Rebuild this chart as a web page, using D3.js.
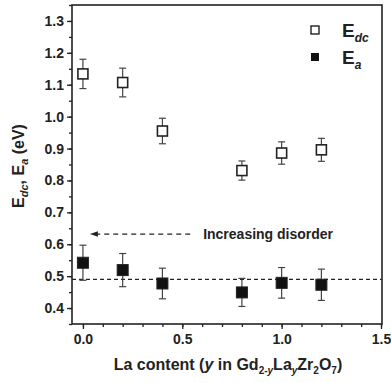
<!DOCTYPE html>
<html>
<head>
<meta charset="utf-8">
<script src="https://cdn.jsdelivr.net/npm/d3@7"></script>
<style>
  body { margin: 0; background: #fff; }
  svg text { font-family: "Liberation Sans", Arial, sans-serif; font-weight: bold; fill: #222; }
</style>
</head>
<body>
<div id="chart"></div>
<script>
// La content y
let laContent = [0.0, 0.2, 0.4, 0.8, 1.0, 1.2];
// E_dc (eV) and its error
let eDc = [1.134, 1.107, 0.955, 0.831, 0.886, 0.896];
let eDcErr = [0.046, 0.045, 0.040, 0.030, 0.035, 0.036];
// E_a (eV) and its error
let eA = [0.542, 0.519, 0.477, 0.449, 0.479, 0.473];
let eAErr = [0.055, 0.052, 0.048, 0.044, 0.048, 0.049];
let xTicks = [0.0, 0.5, 1.0, 1.5];
let yTicks = [0.4, 0.5, 0.6, 0.7, 0.8, 0.9, 1.0, 1.1, 1.2, 1.3];
let refLevel = 0.49;
let arrowLevel = 0.632;
let arrowFrom = 0.54, arrowTo = 0.04;

let margin = {top: 5, right: 9, bottom: 59, left: 72},
    width = 391 - margin.left - margin.right,
    height = 383 - margin.top - margin.bottom;

let x = d3.scaleLinear().domain([-0.055, 1.505]).range([0, width]);
let y = d3.scaleLinear().domain([0.35, 1.35]).range([height, 0]);

let svg = d3.select("#chart").append("svg")
    .attr("width", width + margin.left + margin.right)
    .attr("height", height + margin.top + margin.bottom);

svg.append("defs").append("marker")
    .attr("id", "arrow")
    .attr("viewBox", "0 0 10 10")
    .attr("refX", 9).attr("refY", 5)
    .attr("markerWidth", 6).attr("markerHeight", 6)
    .attr("orient", "auto")
    .append("path").attr("d", "M10,5 L0,1.5 L0,8.5 Z").attr("fill", "#222");

let g = svg.append("g").attr("transform", "translate(" + margin.left + "," + margin.top + ")");

// axes with minor ticks
let xMinor = d3.range(0, 1.51, 0.1);
g.append("g").attr("transform", "translate(0," + height + ")")
  .call(d3.axisBottom(x).tickValues(xMinor).tickSize(3).tickFormat(""))
  .call(a => a.select(".domain").remove())
  .selectAll("line").attr("stroke", "#222").attr("stroke-width", 1.3);
g.append("g").attr("transform", "translate(0," + height + ")")
  .call(d3.axisBottom(x).tickValues(xTicks).tickSize(5).tickPadding(5).tickFormat(d3.format(".1f")))
  .call(a => a.select(".domain").remove())
  .call(a => a.selectAll("line").attr("stroke", "#222").attr("stroke-width", 1.3))
  .selectAll("text").style("font-size", "14px").attr("fill", "#222");

let yMinor = d3.range(0.35, 1.351, 0.05);
g.append("g")
  .call(d3.axisLeft(y).tickValues(yMinor).tickSize(3).tickFormat(""))
  .call(a => a.select(".domain").remove())
  .selectAll("line").attr("stroke", "#222").attr("stroke-width", 1.3);
g.append("g")
  .call(d3.axisLeft(y).tickValues(yTicks).tickSize(5).tickPadding(3).tickFormat(d3.format(".1f")))
  .call(a => a.select(".domain").remove())
  .call(a => a.selectAll("line").attr("stroke", "#222").attr("stroke-width", 1.3))
  .selectAll("text").style("font-size", "14px").attr("fill", "#222");

// frame
g.append("rect").attr("width", width).attr("height", height)
  .attr("fill", "none").attr("stroke", "#222").attr("stroke-width", 1.6);

// reference dashed line
g.append("line")
  .attr("x1", 0).attr("x2", width)
  .attr("y1", y(refLevel)).attr("y2", y(refLevel))
  .attr("stroke", "#222").attr("stroke-width", 1.3).attr("stroke-dasharray", "4,3");

// arrow
g.append("line")
  .attr("x1", x(arrowFrom)).attr("x2", x(arrowTo))
  .attr("y1", y(arrowLevel)).attr("y2", y(arrowLevel))
  .attr("stroke", "#222").attr("stroke-width", 1.3).attr("stroke-dasharray", "5,4")
  .attr("marker-end", "url(#arrow)");
g.append("text").attr("x", x(0.605)).attr("y", y(arrowLevel) + 5)
  .style("font-size", "14px").text("Increasing disorder");

function drawSeries(vals, errs, filled) {
  let s = g.append("g");
  laContent.forEach((d, i) => {
    let cx = x(d);
    s.append("line").attr("x1", cx).attr("x2", cx)
      .attr("y1", y(vals[i] + errs[i])).attr("y2", y(vals[i] - errs[i]))
      .attr("stroke", "#444").attr("stroke-width", 1.2);
    [vals[i] + errs[i], vals[i] - errs[i]].forEach(v => {
      s.append("line").attr("x1", cx - 3.5).attr("x2", cx + 3.5)
        .attr("y1", y(v)).attr("y2", y(v))
        .attr("stroke", "#444").attr("stroke-width", 1.2);
    });
    let sz = filled ? 11 : 10;
    s.append("rect").attr("x", cx - sz / 2).attr("y", y(vals[i]) - sz / 2)
      .attr("width", sz).attr("height", sz)
      .attr("fill", filled ? "#111" : "#fff")
      .attr("stroke", "#222").attr("stroke-width", filled ? 1 : 1.6);
  });
}
drawSeries(eDc, eDcErr, false);
drawSeries(eA, eAErr, true);

// legend
let lg = svg.append("g").attr("transform", "translate(315,0)");
lg.append("rect").attr("x", -4).attr("y", 26).attr("width", 8).attr("height", 8)
  .attr("fill", "#fff").attr("stroke", "#222").attr("stroke-width", 1.4);
lg.append("rect").attr("x", -4).attr("y", 53).attr("width", 8).attr("height", 8)
  .attr("fill", "#111");
let t1 = lg.append("text").attr("x", 27).attr("y", 37).style("font-size", "19px");
t1.append("tspan").text("E");
t1.append("tspan").attr("dy", 5).style("font-size", "12px").style("font-style", "italic").text("dc");
let t2 = lg.append("text").attr("x", 27).attr("y", 64).style("font-size", "19px");
t2.append("tspan").text("E");
t2.append("tspan").attr("dy", 5).style("font-size", "12px").style("font-style", "italic").text("a");

// y axis label
let yl = svg.append("text")
  .attr("transform", "translate(24,166) rotate(-90)")
  .attr("text-anchor", "middle").style("font-size", "16px");
yl.append("tspan").text("E");
yl.append("tspan").attr("dy", 4).style("font-size", "11px").style("font-style", "italic").text("dc");
yl.append("tspan").attr("dy", -4).text(", E");
yl.append("tspan").attr("dy", 4).style("font-size", "11px").style("font-style", "italic").text("a");
yl.append("tspan").attr("dy", -4).text(" (eV)");

// x axis label
let xl = svg.append("text").attr("x", 228).attr("y", 370)
  .attr("text-anchor", "middle").style("font-size", "16px");
xl.append("tspan").text("La content (");
xl.append("tspan").style("font-style", "italic").text("y");
xl.append("tspan").text(" in Gd");
xl.append("tspan").attr("dy", 4).style("font-size", "10px").text("2-");
xl.append("tspan").style("font-size", "10px").style("font-style", "italic").text("y");
xl.append("tspan").attr("dy", -4).text("La");
xl.append("tspan").attr("dy", 4).style("font-size", "10px").style("font-style", "italic").text("y");
xl.append("tspan").attr("dy", -4).text("Zr");
xl.append("tspan").attr("dy", 4).style("font-size", "10px").text("2");
xl.append("tspan").attr("dy", -4).text("O");
xl.append("tspan").attr("dy", 4).style("font-size", "10px").text("7");
xl.append("tspan").attr("dy", -4).text(")");
</script>
</body>
</html>
